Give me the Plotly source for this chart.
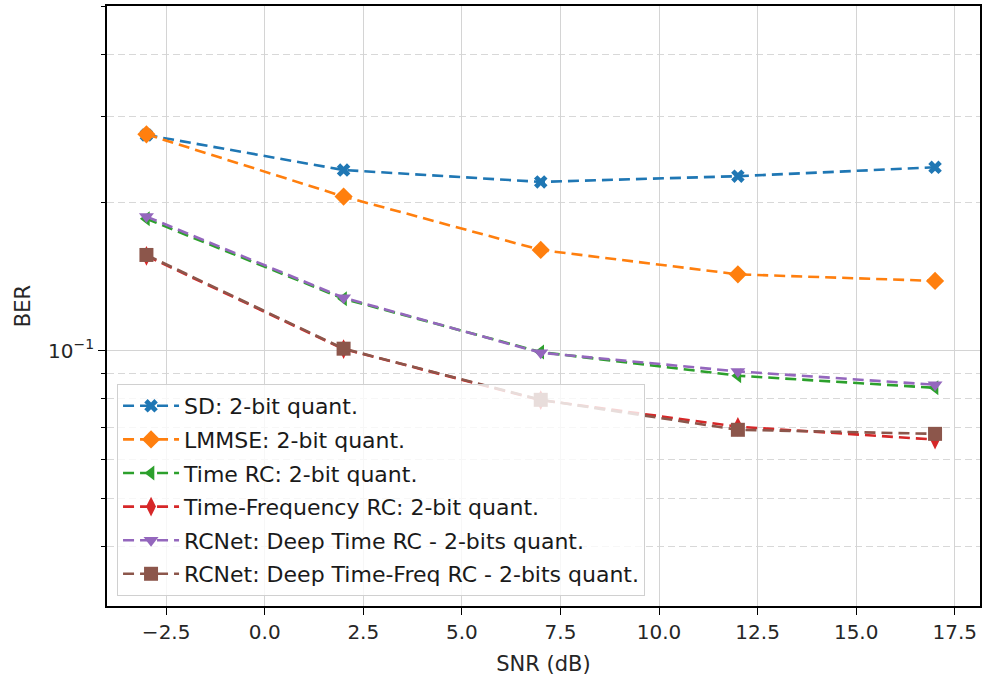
import plotly.graph_objects as go

snr = [-3, 2, 7, 12, 17]
sd = [0.2746, 0.2330, 0.2204, 0.2264, 0.2360]
lmmse = [0.2754, 0.2058, 0.1603, 0.1430, 0.1387]
time_rc = [0.1855, 0.1276, 0.0994, 0.0890, 0.0841]
tf_rc = [0.1559, 0.1008, 0.0794, 0.0701, 0.0660]
deep_time_rc = [0.1874, 0.1282, 0.0991, 0.0908, 0.0853]
deep_tf_rc = [0.1566, 0.1010, 0.0795, 0.0691, 0.0678]

names = ["SD: 2-bit quant.", "LMMSE: 2-bit quant.", "Time RC: 2-bit quant.",
         "Time-Frequency RC: 2-bit quant.", "RCNet: Deep Time RC - 2-bits quant.",
         "RCNet: Deep Time-Freq RC - 2-bits quant."]
series = [sd, lmmse, time_rc, tf_rc, deep_time_rc, deep_tf_rc]
colors = ["#1f77b4", "#ff7f0e", "#2ca02c", "#d62728", "#9467bd", "#8c564b"]
symbols = ["x", "diamond", "triangle-left", "diamond-tall", "triangle-down", "square"]
sizes = [12, 14, 13, 14, 13, 14]

yminor = [0.04, 0.05, 0.06, 0.07, 0.08, 0.09, 0.2, 0.3, 0.4, 0.5]
ymajor = [0.1]
ymajor_text = ["10<sup>\u22121</sup>"]
xticks = [-2.5, 0.0, 2.5, 5.0, 7.5, 10.0, 12.5, 15.0, 17.5]

fig = go.Figure()
for i, (n, s) in enumerate(zip(names, series)):
    fig.add_trace(go.Scatter(
        x=snr, y=s, name=n, mode="lines+markers", legendgroup=f"g{i}",
        line=dict(color=colors[i], width=2.6, dash="11px,6px"),
        marker=dict(symbol=symbols[i], size=sizes[i], color=colors[i], line=dict(width=0)),
    ))

fig.update_layout(
    width=984, height=677,
    margin=dict(l=107, r=4, t=6, b=71, autoexpand=False),
    paper_bgcolor="white", plot_bgcolor="white",
    font=dict(family="DejaVu Sans", size=20, color="#262626"),
    showlegend=True,
    legend=dict(x=0.0115, y=0.0167, xanchor="left", yanchor="bottom",
                bgcolor="rgba(255,255,255,0.8)", bordercolor="#d0d0d0", borderwidth=1,
                font=dict(family="DejaVu Sans", size=22, color="#1a1a1a"),
                tracegroupgap=2, itemwidth=56),
)
fig.update_xaxes(
    range=[-4.0, 18.14], tickvals=xticks, ticktext=[f"{v:.1f}".replace("-", "\u2212") for v in xticks],
    automargin=False,
    showgrid=True, gridcolor="#d4d4d4", gridwidth=1.4,
    showline=True, linecolor="black", linewidth=1.6, mirror=True,
    ticks="outside", ticklen=7, tickwidth=1.4, tickcolor="black",
    zeroline=False,
    title=dict(text="SNR (dB)", font=dict(size=21), standoff=14),
)
fig.update_yaxes(
    type="log", range=[-1.5186, -0.2993],
    tickvals=ymajor, ticktext=ymajor_text,
    automargin=False,
    showgrid=True, gridcolor="#d4d4d4", gridwidth=1.4,
    showline=True, linecolor="black", linewidth=1.6, mirror=True,
    ticks="outside", ticklen=7, tickwidth=1.4, tickcolor="black",
    zeroline=False,
    minor=dict(tickvals=yminor, ticks="outside", ticklen=4, tickwidth=1.1, tickcolor="black",
               showgrid=True, gridcolor="#d8d8d8", griddash="7px,4px", gridwidth=1.1),
    title=dict(text="BER", font=dict(size=21), standoff=12),
)
fig.write_html("out.html", config={"displayModeBar": False},
               post_script="document.body.style.margin='0';document.body.style.overflow='hidden';")
